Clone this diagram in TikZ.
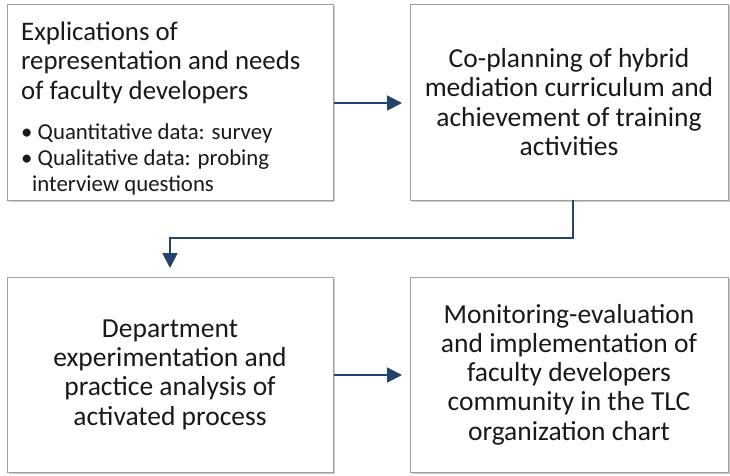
\documentclass[tikz,border=0pt]{standalone}
\usepackage{fontspec}
\setmainfont{Carlito}
\usetikzlibrary{shadows,arrows.meta}
\definecolor{arrowblue}{HTML}{25426A}
\definecolor{boxgray}{HTML}{A0A0A0}
\newcommand{\bonetext}{\parbox[t]{310pt}{\raggedright
\fontsize{26.8}{29.5}\selectfont Explications of\par representation and needs\par of faculty developers\par
\vspace{14pt}\fontsize{22.8}{26}\selectfont \textbullet\ Quantitative data: survey\par \textbullet\ Qualitative data: probing\par \hspace*{11pt}interview questions\par}}
\tikzset{
  box/.style={draw=boxgray, line width=1pt, fill=white, minimum width=326pt, minimum height=196pt,
    drop shadow={shadow xshift=2pt, shadow yshift=-2pt, opacity=0.35, fill=black!60}, inner sep=0pt},
  bigtext/.style={font=\fontsize{27.5}{29.3}\selectfont, align=center, text=black!90},
  link/.style={draw=arrowblue, line width=1.8pt, -{Triangle[length=15pt,width=15pt]}}
}
\begin{document}
\begin{tikzpicture}[x=1pt,y=-1pt]
\useasboundingbox[fill=white] (0,0) rectangle (730,475);
\node[box, minimum width=326pt] (b1) at (170,102) {};
\node[anchor=base west, inner sep=0pt, text=black!90] (t1) at (21,40) {\bonetext};
\node[box, minimum width=318pt, bigtext] (b2) at (569,102) {Co-planning of hybrid\\mediation curriculum and\\achievement of training\\activities};
\node[box, minimum width=326pt, minimum height=195pt, bigtext] (b3) at (170,374.5) {Department\\experimentation and\\practice analysis of\\activated process};
\node[box, minimum width=318pt, minimum height=195pt, bigtext] (b4) at (569,374.5) {Monitoring-evaluation\\and implementation of\\faculty developers\\community in the TLC\\organization chart};
\coordinate (e1) at (402,103);
\coordinate (e2) at (170,268);
\coordinate (e3) at (402,375);
\draw[link] (b1.east |- e1) -- (e1);
\draw[link] (573,200) |- (170,238) -- (e2);
\draw[link] (b3.east |- e3) -- (e3);
\end{tikzpicture}
\end{document}
